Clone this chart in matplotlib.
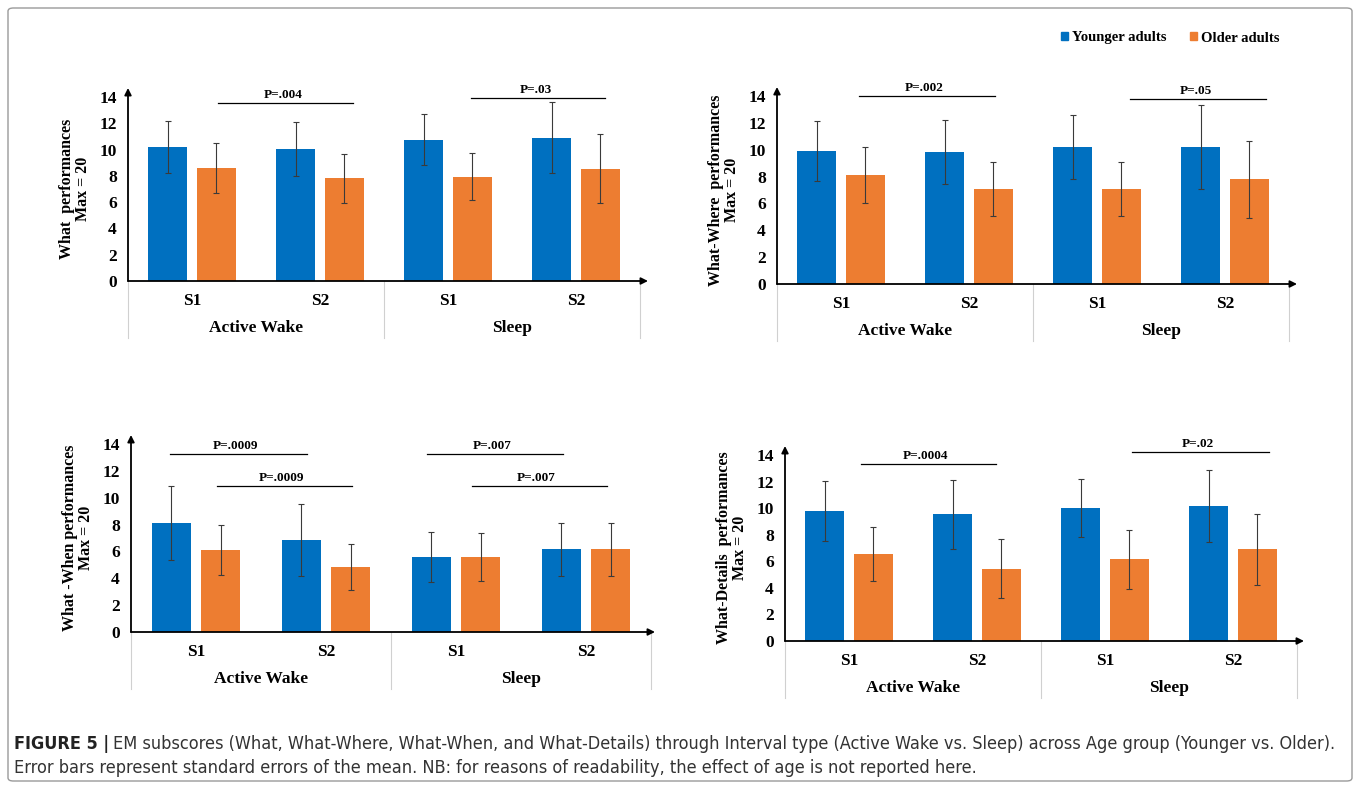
import matplotlib
matplotlib.use('Agg')
import matplotlib.pyplot as plt
from matplotlib import font_manager as fm
from matplotlib.patches import Patch, FancyBboxPatch

plt.rcParams['font.family'] = 'Liberation Serif'
plt.rcParams['font.weight'] = 'bold'
plt.rcParams['axes.labelweight'] = 'bold'

BLUE = '#0070C0'
ORANGE = '#ED7D31'
W, H = 1360, 789

groups = ['Active Wake', 'Sleep']
sessions = ['S1', 'S2', 'S1', 'S2']
series = ['Younger adults', 'Older adults']

what_young = [10.2, 10.05, 10.75, 10.9]
what_young_se = [2.0, 2.05, 1.95, 2.7]
what_older = [8.6, 7.8, 7.95, 8.55]
what_older_se = [1.9, 1.85, 1.8, 2.6]

where_young = [9.9, 9.85, 10.2, 10.2]
where_young_se = [2.25, 2.4, 2.35, 3.1]
where_older = [8.1, 7.1, 7.1, 7.8]
where_older_se = [2.1, 2.0, 2.0, 2.85]

when_young = [8.1, 6.85, 5.6, 6.15]
when_young_se = [2.75, 2.7, 1.85, 1.95]
when_older = [6.1, 4.85, 5.6, 6.15]
when_older_se = [1.85, 1.7, 1.8, 1.95]

details_young = [9.8, 9.55, 10.0, 10.15]
details_young_se = [2.25, 2.6, 2.2, 2.7]
details_older = [6.55, 5.45, 6.15, 6.9]
details_older_se = [2.0, 2.2, 2.2, 2.65]

# significance brackets: label, x from, x to, height
what_p = [('P=.004', 0.2, 1.26, 13.55), ('P=.03', 2.18, 3.23, 13.9)]
where_p = [('P=.002', 0.14, 1.2, 14.0), ('P=.05', 2.26, 3.32, 13.8)]
when_p = [('P=.0009', -0.2, 0.85, 13.28), ('P=.0009', 0.16, 1.2, 10.85),
          ('P=.007', 1.78, 2.82, 13.28), ('P=.007', 2.12, 3.16, 10.85)]
details_p = [('P=.0004', 0.09, 1.15, 13.35), ('P=.02', 2.21, 3.28, 14.2)]

caption_bold = 'FIGURE 5 |'
caption_1 = ('EM subscores (What, What-Where, What-When, and What-Details) through Interval type '
             '(Active Wake vs. Sleep) across Age group (Younger vs. Older).')
caption_2 = ('Error bars represent standard errors of the mean. NB: for reasons of readability, '
             'the effect of age is not reported here.')

fig = plt.figure(figsize=(13.6, 7.89), dpi=100)

# outer frame
fig.patches.append(FancyBboxPatch((8 / W, 8 / H), 1344 / W, 773 / H,
                                  boxstyle='round,pad=0,rounding_size=0.004',
                                  transform=fig.transFigure, fill=False,
                                  edgecolor='#9a9a9a', lw=1.0))


def panel(left, right, y0, y14, arrow_x, young, young_se, older, older_se, plabels, ylabel):
    width = right - left
    height = y0 - y14
    ax = fig.add_axes([left / W, 1 - y0 / H, width / W, height / H])
    x = list(range(len(sessions)))
    ax.bar([i - 0.19 for i in x], young, 0.3, color=BLUE, zorder=2)
    ax.bar([i + 0.19 for i in x], older, 0.3, color=ORANGE, zorder=2)
    ax.errorbar([i - 0.19 for i in x], young, yerr=young_se, fmt='none',
                ecolor='#3a3a3a', elinewidth=0.8, capsize=2.5, capthick=0.8, zorder=3)
    ax.errorbar([i + 0.19 for i in x], older, yerr=older_se, fmt='none',
                ecolor='#3a3a3a', elinewidth=0.8, capsize=2.5, capthick=0.8, zorder=3)
    ax.set_xlim(-0.5, 3.5)
    ax.set_ylim(0, 14)
    ax.set_yticks(range(0, 15, 2))
    ax.tick_params(axis='y', length=0, labelsize=12.5, pad=8)
    ax.set_xticks([])
    for s in ax.spines.values():
        s.set_visible(False)
    ax.patch.set_alpha(0)

    # axis arrows
    ax.annotate('', xy=((arrow_x - left) / width, 0), xytext=(0, 0),
                xycoords='axes fraction',
                arrowprops=dict(arrowstyle='-|>', color='black', lw=1.3,
                                mutation_scale=10, shrinkA=0, shrinkB=0))
    ax.annotate('', xy=(0, 1 + 9 / height), xytext=(0, 0),
                xycoords='axes fraction',
                arrowprops=dict(arrowstyle='-|>', color='black', lw=1.3,
                                mutation_scale=10, shrinkA=0, shrinkB=0))

    # category structure below the axis
    tr = ax.get_xaxis_transform()
    for xv in [-0.5, 1.5, 3.5]:
        ax.plot([xv, xv], [0, -57 / height], transform=tr, color='#d0d0d0',
                lw=0.8, clip_on=False)
    for i, s in enumerate(sessions):
        ax.text(i, -20 / height, s, transform=tr, ha='center', va='center', fontsize=12.5)
    for j, g in enumerate(groups):
        ax.text(2 * j + 0.5, -47 / height, g, transform=tr, ha='center', va='center',
                fontsize=12.5)

    for lab, xa, xb, yv in plabels:
        ax.plot([xa, xb], [yv, yv], color='black', lw=0.9, clip_on=False)
        ax.text((xa + xb) / 2 - 0.02, yv + 0.6, lab, ha='center', va='center', fontsize=9.5)

    ax.set_ylabel(ylabel, fontsize=11.5, fontweight='bold', labelpad=6, linespacing=1.0)
    return ax


panel(128, 640, 281, 97, 648, what_young, what_young_se, what_older, what_older_se,
      what_p, 'What  performances\nMax = 20')
panel(777, 1289, 284, 96, 1297, where_young, where_young_se, where_older, where_older_se,
      where_p, 'What-Where  performances\nMax = 20')
panel(131, 651, 632, 444, 655, when_young, when_young_se, when_older, when_older_se,
      when_p, 'What -When performances\nMax = 20')
panel(785, 1297, 641, 455, 1304, details_young, details_young_se, details_older,
      details_older_se, details_p, 'What-Details  performances\nMax = 20')

handles = [Patch(color=BLUE), Patch(color=ORANGE)]
fig.legend(handles, series, loc='center', bbox_to_anchor=(1170 / W, 1 - 38 / H),
           ncol=2, frameon=False, handlelength=0.5, handleheight=0.5,
           handletextpad=0.25, columnspacing=1.6, fontsize=10.5)

# caption: prefer a condensed sans face, like the journal's one
cap_font = 'Liberation Sans'
cap_stretch = 'normal'
for f in fm.fontManager.ttflist:
    if f.name == 'Liberation Sans Narrow':
        cap_font = 'Liberation Sans Narrow'
        break
else:
    for f in fm.fontManager.ttflist:
        if f.name == 'DejaVu Sans' and f.stretch == 'condensed':
            cap_font = 'DejaVu Sans'
            cap_stretch = 'condensed'
            break

renderer = fig.canvas.get_renderer()
size = 11.5
t1 = fig.text(14 / W, 1 - 744 / H, caption_bold, fontsize=size, fontweight='bold',
              family=cap_font, stretch=cap_stretch, color='#222222', va='center', ha='left')
t2 = fig.text(0, 1 - 744 / H, caption_1, fontsize=size, fontweight='normal',
              family=cap_font, stretch=cap_stretch, color='#333333', va='center', ha='left')
t3 = fig.text(14 / W, 1 - 768 / H, caption_2, fontsize=size, fontweight='normal',
              family=cap_font, stretch=cap_stretch, color='#333333', va='center', ha='left')
for _ in range(3):
    b1 = t1.get_window_extent(renderer)
    t2.set_x((b1.x1 + 4) / W)
    b2 = t2.get_window_extent(renderer)
    size = size * (1345 - 14) / (b2.x1 - 14)
    size = min(size, 13)
    for t in (t1, t2, t3):
        t.set_fontsize(size)
b1 = t1.get_window_extent(renderer)
t2.set_x((b1.x1 + 4) / W)

fig.savefig('out.png', dpi=100)
